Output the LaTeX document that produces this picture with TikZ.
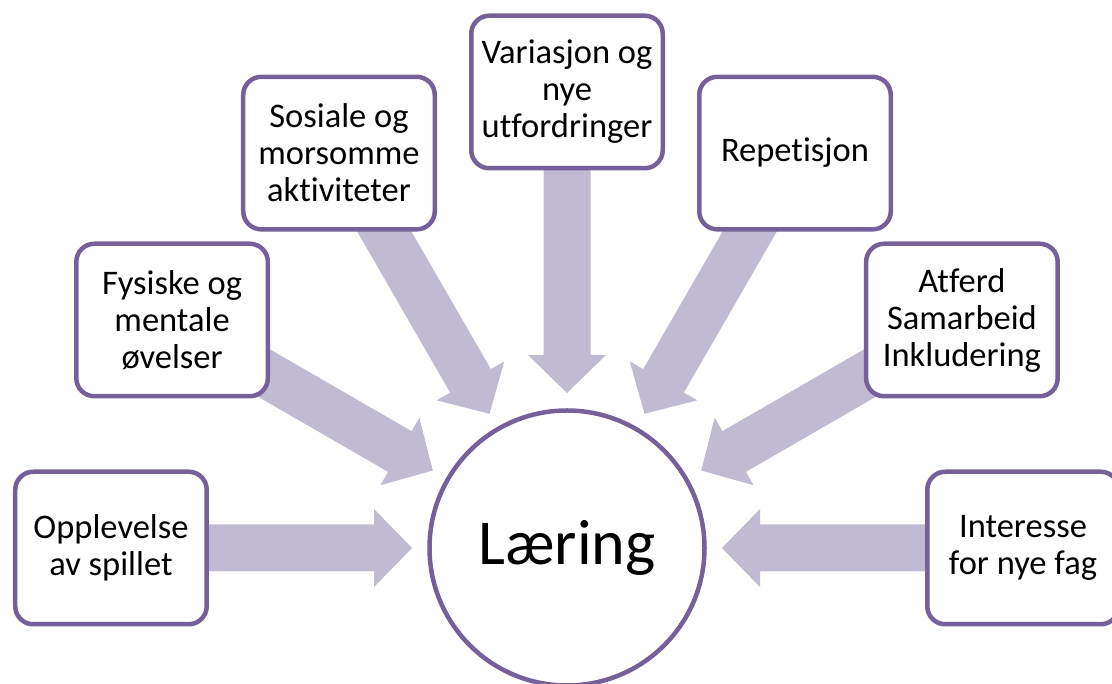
\documentclass[tikz,border=0pt]{standalone}
\usepackage{fontspec}
\setmainfont{Carlito}[Ligatures=NoCommon]
\usetikzlibrary{calc}
\pgfdeclarelayer{bg}
\pgfsetlayers{bg,main}
\definecolor{bordc}{HTML}{76609A}
\definecolor{arrc}{HTML}{C0BAD2}
\tikzset{
  box/.style={draw=bordc, line width=4.5bp, fill=white, rounded corners=18bp,
    minimum width=191.5bp, minimum height=152.5bp, align=center, inner sep=2bp,
    font=\fontsize{34.5bp}{37bp}\selectfont},
  hub/.style={draw=bordc, line width=4.5bp, fill=white, circle, minimum size=275bp,
    inner sep=0pt, font=\fontsize{64bp}{70bp}\selectfont},
  blockarrow/.style={fill=arrc}
}
\newcommand{\blockarr}[1]{%
  \coordinate (#1t) at ($(hub.center)!155bp!(#1.center)$);
  \coordinate (#1h) at ($(hub.center)!193bp!(#1.center)$);
  \fill[blockarrow] (#1t) -- ($(#1h)!39bp!90:(#1.center)$)
    -- ($(#1h)!23.5bp!90:(#1.center)$)
    -- ($(#1.center)!23.5bp!-90:(#1h)$)
    -- ($(#1.center)!23.5bp!90:(#1h)$)
    -- ($(#1h)!23.5bp!-90:(#1.center)$)
    -- ($(#1h)!39bp!-90:(#1.center)$) -- cycle;}
\begin{document}
\begin{tikzpicture}[x=1bp,y=1bp]
\useasboundingbox (0,0) rectangle (1112,684);
\node[hub] (hub) at (567,136) {Læring};
\node[box] (b1) at ($(hub.center)+(180:456bp)$) {Opplevelse\\av spillet};
\node[box] (b2) at ($(hub.center)+(150:456bp)$) {Fysiske og\\mentale\\øvelser};
\node[box] (b3) at ($(hub.center)+(120:456bp)$) {Sosiale og\\morsomme\\aktiviteter};
\node[box] (b4) at ($(hub.center)+(90:456bp)$) {Variasjon og\\nye\\utfordringer};
\node[box] (b5) at ($(hub.center)+(60:456bp)$) {Repetisjon};
\node[box] (b6) at ($(hub.center)+(30:456bp)$) {Atferd\\Samarbeid\\Inkludering};
\node[box] (b7) at ($(hub.center)+(0:456bp)$) {Interesse\\for nye fag};
\begin{pgfonlayer}{bg}
\blockarr{b1}
\blockarr{b2}
\blockarr{b3}
\blockarr{b4}
\blockarr{b5}
\blockarr{b6}
\blockarr{b7}
\end{pgfonlayer}
\end{tikzpicture}
\end{document}
